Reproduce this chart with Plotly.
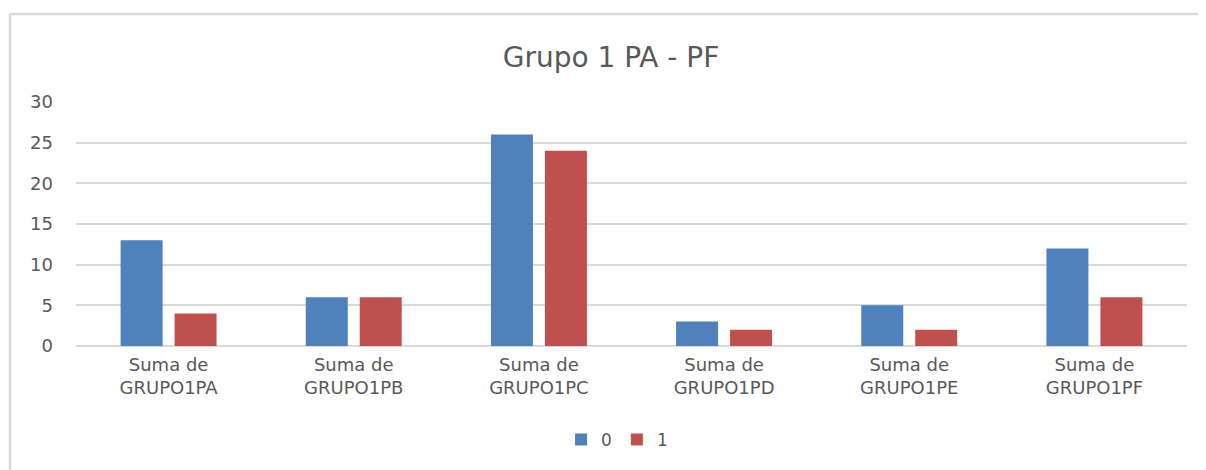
import plotly.graph_objects as go

categories = ["Suma de<br>GRUPO1PA", "Suma de<br>GRUPO1PB", "Suma de<br>GRUPO1PC",
              "Suma de<br>GRUPO1PD", "Suma de<br>GRUPO1PE", "Suma de<br>GRUPO1PF"]
series0 = [13, 6, 26, 3, 5, 12]
series1 = [4, 6, 24, 2, 2, 6]
series_names = ["0", "1"]
colors = ["#4F81BD", "#C0504D"]

font_family = "DejaVu Sans, Open Sans, sans-serif"

fig = go.Figure()
fig.add_trace(go.Bar(x=categories, y=series0, name=series_names[0], marker_color=colors[0],
                     marker_line_width=0))
fig.add_trace(go.Bar(x=categories, y=series1, name=series_names[1], marker_color=colors[1],
                     marker_line_width=0))

fig.update_layout(
    width=1206, height=470,
    margin=dict(l=68, r=27, t=94, b=132),
    paper_bgcolor="white", plot_bgcolor="white",
    barmode="group", bargap=0.417, bargroupgap=0.222,
    title=dict(text="Grupo 1 PA - PF", x=0.5, xanchor="center", y=0.896, yanchor="middle",
               font=dict(family=font_family, size=28, color="#595959")),
    font=dict(family=font_family, size=17, color="#595959"),
    legend=dict(orientation="h", x=0.487, xanchor="center", y=-0.385, yanchor="middle",
                font=dict(size=17, color="#595959"), itemwidth=30, traceorder="normal"),
    showlegend=True,
)
fig.update_yaxes(range=[0, 30], dtick=5, showgrid=True, gridcolor="#d9d9d9", gridwidth=1.5,
                 zeroline=True, zerolinecolor="#d9d9d9", zerolinewidth=1.5,
                 showline=False, ticks="", ticklabelstandoff=22,
                 tickfont=dict(size=18, color="#595959"))
fig.update_xaxes(showline=False, ticks="", tickfont=dict(size=18, color="#595959"),
                 ticklabelstandoff=6)

border = dict(color="#d9d9d9", width=2.5)
fig.add_shape(type="line", xref="paper", yref="paper",
              x0=-0.0594, x1=1.5, y0=1.361, y1=1.361, line=border, layer="below")
fig.add_shape(type="line", xref="paper", yref="paper",
              x0=-0.0594, x1=-0.0594, y0=-1.0, y1=1.361, line=border, layer="below")

fig.write_html("out.html")
